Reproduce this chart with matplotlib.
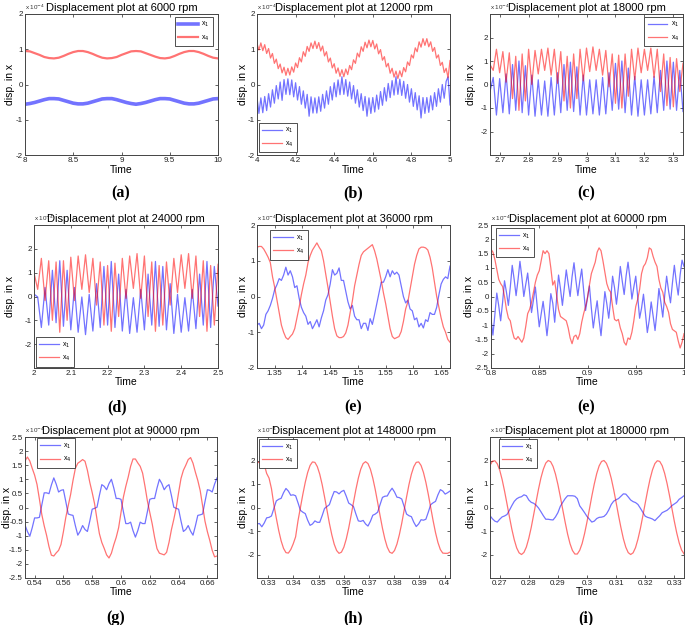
import numpy as np
import matplotlib
matplotlib.use('Agg')
import matplotlib.pyplot as plt
from matplotlib.ticker import FuncFormatter

plt.rcParams['font.family'] = ['Liberation Sans', 'DejaVu Sans']

# displacement values in units of 1e-4, sampled evenly across each time window
# (a) 6000 rpm, t = 8 .. 10
a_x1 = [-0.56, -0.54, -0.51, -0.47, -0.43, -0.40, -0.40, -0.41, -0.45, -0.49,
        -0.53, -0.55, -0.55, -0.53, -0.49, -0.45, -0.41, -0.40, -0.40, -0.43,
        -0.47, -0.51, -0.54, -0.56, -0.54, -0.51, -0.47, -0.43, -0.40, -0.40,
        -0.41, -0.45, -0.49, -0.53, -0.55, -0.55, -0.53, -0.49, -0.45, -0.41,
        -0.40]
a_x4 = [0.95, 0.94, 0.89, 0.84, 0.78, 0.75, 0.74, 0.76, 0.81, 0.87,
        0.92, 0.95, 0.95, 0.92, 0.87, 0.81, 0.76, 0.74, 0.75, 0.78,
        0.84, 0.89, 0.94, 0.95, 0.94, 0.89, 0.84, 0.79, 0.75, 0.74,
        0.76, 0.81, 0.87, 0.92, 0.95, 0.95, 0.92, 0.87, 0.81, 0.76,
        0.74]

# (b) 12000 rpm, t = 4 .. 5
b_x1 = [-0.37, -0.82, -0.38, -0.80, -0.34, -0.74, -0.26, -0.64, -0.15, -0.53,
        -0.03, -0.41, 0.07, -0.45, 0.14, -0.28, 0.16, -0.29, 0.13, -0.35,
        0.05, -0.44, -0.06, -0.56, -0.18, -0.67, -0.28, -0.90, -0.35, -0.81,
        -0.38, -0.81, -0.35, -0.76, -0.28, -0.67, -0.18, -0.56, -0.06, -0.44,
        0.05, -0.35, 0.13, -0.29, 0.22, -0.28, 0.14, -0.33, 0.07, -0.41,
        -0.03, -0.53, -0.15, -0.64, -0.26, -0.74, -0.34, -0.90, -0.38, -0.82,
        -0.37, -0.78, -0.30, -0.70, -0.20, -0.59, -0.09, -0.47, 0.03, -0.37,
        0.11, -0.30, 0.22, -0.28, 0.15, -0.31, 0.09, -0.39, 0.00, -0.50,
        -0.12, -0.62, -0.23, -0.72, -0.32, -0.95, -0.37, -0.82, -0.37, -0.79,
        -0.32, -0.72, -0.23, -0.62, -0.12, -0.50, 0.00, -0.39, 0.09, 0.22,
        -0.58]
b_x4 = [1.16, 0.98, 1.18, 0.96, 1.13, 0.88, 1.02, 0.75, 0.88, 0.60,
        0.72, 0.45, 0.58, 0.33, 0.49, 0.26, 0.46, 0.27, 0.50, 0.35,
        0.61, 0.48, 0.76, 0.64, 0.93, 0.80, 1.08, 0.94, 1.18, 1.02,
        1.23, 1.02, 1.19, 0.95, 1.09, 0.81, 0.93, 0.64, 0.75, 0.47,
        0.59, 0.32, 0.47, 0.23, 0.42, 0.22, 0.44, 0.28, 0.54, 0.42,
        0.70, 0.60, 0.89, 0.78, 1.07, 0.94, 1.20, 1.04, 1.26, 1.07,
        1.25, 1.01, 1.15, 0.87, 0.99, 0.69, 0.79, 0.50, 0.60, 0.32,
        0.46, 0.21, 0.38, 0.17, 0.39, 0.22, 0.48, 0.36, 0.64, 0.54,
        0.84, 0.75, 1.04, 0.93, 1.21, 1.06, 1.30, 1.11, 1.30, 1.07,
        1.21, 0.94, 1.05, 0.75, 0.84, 0.54, 0.63, 0.34, 0.46, 0.19,
        0.68]

# (c) 18000 rpm, t = 2.667 .. 3.333
c_x1 = [-0.30, 0.30, -1.30, 0.25, -1.20, 0.45, -1.25, 0.85, -1.10, 1.00,
        -1.20, 0.80, -1.30, 0.40, -1.35, 0.20, -1.30, 0.15, -1.35, 0.30,
        -1.30, 0.50, -1.20, 0.85, -1.10, 0.95, -1.15, 0.75, -1.30, 0.40,
        -1.30, 0.20, -1.25, 0.20, -1.30, 0.30, -1.25, 0.50, -1.10, 0.90,
        -1.05, 1.00, -1.20, 0.70, -1.30, 0.35, -1.35, 0.20, -1.30, 0.20,
        -1.25, 0.35, -1.20, 0.60, -1.10, 1.00, -1.05, 0.95, -1.10, 0.60,
        -1.15]
c_x4 = [0.85, 0.60, 1.50, 0.50, 1.40, 0.10, 1.35, -0.60, 1.20, -1.10,
        1.30, -0.70, 1.50, 0.00, 1.45, 0.45, 1.50, 0.60, 1.55, 0.40,
        1.50, 0.05, 1.40, -0.70, 1.20, -1.00, 1.30, -0.60, 1.50, 0.15,
        1.55, 0.55, 1.60, 0.60, 1.50, 0.40, 1.45, -0.10, 1.30, -0.80,
        1.25, -1.00, 1.30, -0.50, 1.50, 0.20, 1.55, 0.50, 1.50, 0.60,
        1.55, 0.30, 1.50, -0.30, 1.30, -0.90, 1.15, -0.95, 1.10, -0.30,
        0.90]

# (d) 24000 rpm, t = 2 .. 2.5
d_x1 = [0.10, -0.02, -1.30, 0.38, -1.20, 1.10, -1.10, 1.50, -1.25, 1.10,
        -1.40, 0.38, -1.50, -0.02, -1.60, 0.09, -1.45, 0.54, -1.30, 1.26,
        -1.20, 1.47, -1.30, 0.94, -1.45, 0.30, -1.55, -0.05, -1.50, 0.30,
        -1.40, 0.94, -1.20, 1.47, -1.25, 1.26, -1.40, 0.54, -1.55, 0.09,
        -1.50, -0.05, -1.45, 0.30, -1.35, 0.94, -1.20, 1.47, -1.30, 1.26,
        -0.40]
d_x4 = [1.00, 0.30, 1.60, -0.17, 1.50, -1.00, 1.45, -1.50, 1.50, -1.00,
        1.65, -0.17, 1.70, 0.30, 1.75, 0.17, 1.60, -0.36, 1.45, -1.20,
        1.30, -1.46, 1.40, -0.84, 1.60, -0.08, 1.70, 0.34, 1.80, -0.08,
        1.70, -0.84, 1.45, -1.46, 1.30, -1.20, 1.45, -0.36, 1.60, 0.17,
        1.75, 0.34, 1.80, -0.08, 1.70, -0.84, 1.50, -1.46, 1.30, -1.20,
        1.35]

# (e) 36000 rpm, t = 1.318 .. 1.666
e_x1 = [-0.80, -0.75, -0.90, -0.80, -0.50, -0.40, -0.25, -0.05, 0.20, 0.33,
        0.50, 0.45, 0.60, 0.82, 0.60, 0.72, 0.55, 0.25, 0.30, -0.05,
        -0.30, -0.45, -0.55, -0.78, -0.70, -0.90, -0.78, -0.65, -0.85, -0.60,
        -0.40, -0.10, 0.05, 0.35, 0.75, 0.60, 0.65, 0.80, 0.45, 0.45,
        0.15, -0.15, -0.35, -0.25, -0.55, -0.65, -0.65, -0.90, -0.75, -0.75,
        -0.95, -0.62, -0.78, -0.50, -0.20, 0.10, 0.40, 0.40, 0.55, 0.75,
        0.55, 0.72, 0.62, 0.68, 0.60, 0.30, 0.00, -0.18, -0.10, -0.35,
        -0.40, -0.65, -0.60, -0.85, -0.75, -0.88, -0.65, -0.70, -0.45, -0.50,
        -0.50, -0.30, 0.05, 0.35, 0.48, 0.55, 0.50, 0.85]
e_x4 = [1.38, 1.40, 1.40, 1.33, 1.22, 1.10, 0.95, 0.55, 0.25, -0.10,
        -0.45, -0.80, -1.00, -1.15, -1.20, -1.12, -1.05, -0.90, -0.60, -0.30,
        0.05, 0.35, 0.60, 0.95, 1.15, 1.30, 1.40, 1.50, 1.38, 1.28,
        1.00, 0.62, 0.25, -0.15, -0.55, -0.90, -1.10, -1.15, -1.15, -1.12,
        -1.02, -0.80, -0.45, -0.12, 0.30, 0.60, 0.90, 1.15, 1.25, 1.30,
        1.35, 1.40, 1.45, 1.28, 1.05, 0.75, 0.45, 0.10, -0.20, -0.55,
        -0.90, -1.12, -1.18, -1.15, -1.12, -0.98, -0.70, -0.35, -0.15, 0.20,
        0.55, 0.90, 1.15, 1.33, 1.38, 1.38, 1.36, 1.30, 1.10, 0.80,
        0.40, 0.00, -0.30, -0.60, -0.85, -1.00, -1.20, -1.28]

# (e) 60000 rpm, t = 0.8 .. 1.0
f_x1 = [-0.79, -1.35, -0.64, 0.12, -0.32, -0.85, -0.21, 0.55, 0.15, -0.31,
        0.33, 1.09, 0.60, 0.03, 0.58, 1.23, 0.67, 0.00, 0.42, 0.82,
        0.15, -0.56, -0.12, 0.33, -0.39, -1.06, -0.61, -0.17, -0.73, -1.37,
        -0.73, 0.10, -0.23, -0.90, -0.07, 0.75, 0.27, -0.31, 0.31, 0.93,
        0.45, 0.00, 0.69, 1.18, 0.56, 0.03, 0.54, 0.96, 0.22, -0.49,
        -0.03, 0.37, -0.41, -1.10, -0.59, -0.15, -0.82, -1.37, -0.61, 0.17,
        -0.25, -0.76, -0.12, 0.71, 0.31, -0.27, 0.31, 1.05, 0.54, 0.07,
        0.72, 1.20, 0.63, -0.09, 0.33, 0.71, 0.00, -0.76, -0.41, 0.08,
        -0.57, -1.26, -0.82, -0.19, -0.68, -1.19, -0.52, 0.28, -0.19, -0.72,
        0.04, 0.71, 0.20, -0.22, 0.47, 1.09, 0.51, 0.05, 0.76, 1.27,
        1.05]
f_x4 = [1.65, 1.55, 1.30, 0.95, 0.60, 0.45, 0.35, 0.00, -0.45, -0.75,
        -0.85, -1.20, -1.45, -1.50, -1.40, -1.50, -1.60, -1.45, -1.05, -0.60,
        -0.45, -0.20, 0.15, 0.50, 0.75, 0.90, 1.25, 1.60, 1.50, 1.60,
        1.50, 1.00, 0.40, 0.55, 0.05, -0.45, -0.70, -0.75, -0.80, -0.85,
        -1.10, -1.45, -1.65, -1.40, -1.35, -1.50, -1.30, -0.90, -0.60, -0.35,
        -0.05, 0.40, 0.80, 1.00, 1.20, 1.55, 1.70, 1.60, 1.25, 0.85,
        0.45, 0.25, 0.15, -0.35, -0.80, -0.85, -0.80, -1.10, -1.30, -1.60,
        -1.70, -1.45, -1.50, -1.25, -0.85, -0.35, -0.10, 0.25, 0.80, 1.05,
        1.15, 1.35, 1.70, 1.65, 1.40, 1.20, 1.05, 0.60, 0.30, 0.15,
        -0.20, -0.35, -0.55, -0.95, -1.15, -1.20, -1.25, -1.55, -1.80, -1.60,
        -1.30]

# (g) 90000 rpm, t = 0.5333 .. 0.6667
g_x1 = [-0.62, -0.85, -1.02, -0.72, -0.37, -0.37, -0.35, 0.09, 0.52, 0.52,
        0.49, 0.80, 1.05, 0.83, 0.55, 0.61, 0.63, 0.21, -0.23, -0.26,
        -0.28, -0.65, -0.98, -0.84, -0.64, -0.78, -0.85, -0.48, -0.06, -0.03,
        0.01, 0.43, 0.81, 0.75, 0.63, 0.85, 1.00, 0.69, 0.32, 0.32,
        0.29, -0.15, -0.57, -0.57, -0.52, -0.82, -1.05, -0.82, -0.52, -0.57,
        -0.57, -0.15, 0.29, 0.32, 0.32, 0.69, 1.00, 0.85, 0.63, 0.75,
        0.81, 0.43, 0.01, -0.03, -0.06, -0.48, -0.85, -0.78, -0.64, -0.84,
        -0.98, -0.65, -0.28, -0.26, -0.23, 0.21, 0.63, 0.61, 0.55, 0.83,
        1.05]
g_x4 = [1.65, 1.79, 1.65, 1.39, 1.15, 0.82, 0.30, -0.25, -0.65, -0.99,
        -1.39, -1.69, -1.72, -1.61, -1.52, -1.31, -0.86, -0.35, 0.06, 0.46,
        0.96, 1.39, 1.57, 1.63, 1.70, 1.64, 1.32, 0.89, 0.53, 0.13,
        -0.42, -0.93, -1.24, -1.45, -1.68, -1.79, -1.62, -1.32, -1.06, -0.72,
        -0.18, 0.37, 0.75, 1.08, 1.46, 1.72, 1.72, 1.58, 1.46, 1.22,
        0.75, 0.23, -0.18, -0.58, -1.06, -1.46, -1.62, -1.65, -1.68, -1.59,
        -1.24, -0.79, -0.42, -0.01, 0.53, 1.03, 1.32, 1.50, 1.70, 1.77,
        1.57, 1.25, 0.96, 0.60, 0.06, -0.49, -0.86, -1.17, -1.52, -1.75,
        -1.72]

# (h) 148000 rpm, t = 0.3256 .. 0.4021
h_x1 = [-0.70, -0.68, -0.82, -0.66, -0.44, -0.42, -0.36, -0.04, 0.28, 0.35,
        0.39, 0.63, 0.81, 0.70, 0.52, 0.54, 0.50, 0.20, -0.12, -0.20,
        -0.26, -0.54, -0.76, -0.70, -0.57, -0.63, -0.63, -0.35, -0.04, 0.04,
        0.12, 0.42, 0.68, 0.66, 0.58, 0.68, 0.73, 0.48, 0.19, 0.12,
        0.04, -0.28, -0.57, -0.59, -0.55, -0.70, -0.79, -0.59, -0.33, -0.28,
        -0.20, 0.12, 0.43, 0.48, 0.49, 0.68, 0.82, 0.66, 0.44, 0.42,
        0.36, 0.04, -0.28, -0.35, -0.39, -0.63, -0.81, -0.70, -0.52, -0.54,
        -0.50, -0.20, 0.12, 0.20, 0.26, 0.54, 0.76, 0.70, 0.57, 0.63,
        0.70]
h_x4 = [1.95, 1.90, 1.95, 1.83, 1.45, 1.25, 0.80, 0.11, -0.45, -0.98,
        -1.42, -1.74, -1.92, -1.94, -1.79, -1.55, -1.25, -0.56, 0.00, 0.56,
        1.07, 1.49, 1.79, 1.94, 1.92, 1.74, 1.42, 0.98, 0.45, -0.11,
        -0.67, -1.16, -1.56, -1.83, -1.95, -1.90, -1.69, -1.34, -0.88, -0.34,
        0.22, 0.77, 1.25, 1.63, 1.87, 1.95, 1.87, 1.63, 1.25, 0.77,
        0.22, -0.34, -0.88, -1.34, -1.69, -1.90, -1.95, -1.83, -1.56, -1.16,
        -0.67, -0.11, 0.45, 0.98, 1.42, 1.74, 1.92, 1.94, 1.79, 1.49,
        1.07, 0.56, 0.00, -0.56, -1.07, -1.49, -1.79, -1.94, -1.95, -1.95,
        -1.90]

# (i) 180000 rpm, t = 0.2667 .. 0.3333
i_x1 = [-0.35, -0.48, -0.58, -0.62, -0.50, -0.40, -0.36, -0.30, -0.12, 0.08,
        0.26, 0.37, 0.43, 0.46, 0.54, 0.50, 0.32, 0.22, 0.18, 0.10,
        -0.02, -0.18, -0.35, -0.50, -0.50, -0.52, -0.53, -0.40, -0.22, 0.05,
        0.22, 0.38, 0.50, 0.50, 0.50, 0.48, 0.38, 0.07, -0.07, -0.22,
        -0.38, -0.50, -0.62, -0.58, -0.47, -0.42, -0.41, -0.38, -0.28, -0.10,
        0.13, 0.27, 0.33, 0.38, 0.48, 0.58, 0.57, 0.45, 0.32, 0.25,
        0.21, 0.13, -0.03, -0.20, -0.37, -0.42, -0.45, -0.49, -0.56, -0.45,
        -0.35, -0.22, -0.17, -0.12, -0.03, 0.08, 0.15, 0.22, 0.35, 0.42,
        0.50]
i_x4 = [1.79, 1.97, 1.99, 1.86, 1.59, 1.19, 0.70, 0.16, -0.39, -0.92,
        -1.37, -1.72, -1.93, -2.00, -1.91, -1.68, -1.31, -0.85, -0.31, 0.24,
        0.78, 1.26, 1.63, 1.89, 2.00, 1.95, 1.75, 1.42, 0.98, 0.46,
        -0.09, -0.63, -1.13, -1.54, -1.83, -1.98, -1.98, -1.82, -1.53, -1.11,
        -0.61, -0.07, 0.49, 1.00, 1.44, 1.77, 1.96, 2.00, 1.88, 1.62,
        1.24, 0.76, 0.22, -0.34, -0.86, -1.33, -1.69, -1.92, -2.00, -1.93,
        -1.71, -1.35, -0.90, -0.37, 0.18, 0.72, 1.21, 1.60, 1.87, 1.99,
        1.96, 1.78, 1.46, 1.03, 0.52, -0.03, -0.58, -1.08, -1.50, -1.81,
        -1.97]

speeds = ['6000', '12000', '18000', '24000', '36000', '60000', '90000', '148000', '180000']
captions = ['(a)', '(b)', '(c)', '(d)', '(e)', '(e)', '(g)', '(h)', '(i)']
t_windows = [(8, 10), (4, 5), (2.6667, 3.3333), (2, 2.5), (1.318, 1.666),
             (0.8, 1.0), (0.5333, 0.6667), (0.3256, 0.4021), (0.2667, 0.3333)]
x_ticks = [np.arange(8, 10.01, 0.5), np.arange(4, 5.01, 0.2), np.arange(2.7, 3.31, 0.1),
           np.arange(2, 2.51, 0.1), np.arange(1.35, 1.651, 0.05), np.arange(0.8, 1.001, 0.05),
           np.arange(0.54, 0.661, 0.02), np.arange(0.33, 0.401, 0.01), np.arange(0.27, 0.331, 0.01)]
y_lims = [2, 2, 3, 3, 2, 2.5, 2.5, 3, 3]
series = [(a_x1, a_x4), (b_x1, b_x4), (c_x1, c_x4), (d_x1, d_x4), (e_x1, e_x4),
          (f_x1, f_x4), (g_x1, g_x4), (h_x1, h_x4), (i_x1, i_x4)]

W, H = 685, 625
fig = plt.figure(figsize=(6.85, 6.25), dpi=100)

# axes boxes in pixels: left, top, right, bottom
boxes = [(25, 14, 218, 155), (257, 14, 450, 155), (490, 14, 683, 155),
         (34, 225, 218, 368), (257, 225, 450, 368), (491, 225, 684, 368),
         (25, 437, 217, 578), (257, 437, 450, 578), (490, 437, 684, 578)]
ylabel_x = [10, 243, 471, 10, 243, 469, 7, 243, 471]
xlabel_y = [170, 170, 170, 382, 382, 382, 592, 592, 592]
caption_pos = [(121, 193), (353, 193), (586, 193), (117, 407), (353, 407), (586, 407),
               (116, 618), (353, 618), (586, 618)]
legend_spec = [('upper right', (0.975, 0.98)), ('lower left', (0.01, 0.02)),
               ('upper right', (0.998, 0.98)), ('lower left', (0.01, 0.01)),
               ('upper left', (0.067, 0.965)), ('upper left', (0.026, 0.98)),
               ('upper left', (0.062, 0.99)), ('upper left', (0.01, 0.986)),
               ('upper left', (0.046, 0.986))]

fmt = FuncFormatter(lambda v, p: f'{round(v, 6):g}')

for n in range(9):
    l, t, r, b = boxes[n]
    ax = fig.add_axes([l / W, 1 - b / H, (r - l) / W, (b - t) / H])
    x1, x4 = series[n]
    t0, t1 = t_windows[n]
    lw1, lw4 = (2.6, 1.6) if n == 0 else (0.9, 0.9)
    ax.plot(np.linspace(t0, t1, len(x1)), x1, color='blue', alpha=0.55, lw=lw1, label='x$_1$')
    ax.plot(np.linspace(t0, t1, len(x4)), x4, color='red', alpha=0.55, lw=lw4, label='x$_4$')
    ax.set_xlim(t0, t1)
    yl = y_lims[n]
    ax.set_ylim(-yl, yl)
    if yl == 2.5:
        ax.set_yticks(np.arange(-2.5, 2.51, 0.5))
    else:
        ax.set_yticks([-2, -1, 0, 1, 2])
    ax.set_xticks(x_ticks[n])
    ax.xaxis.set_major_formatter(fmt)
    ax.yaxis.set_major_formatter(fmt)
    ax.tick_params(direction='in', length=2, width=0.5, labelsize=5.8, pad=1.5,
                   top=True, right=True, colors='#222222')
    for s in ax.spines.values():
        s.set_color('#444444')
        s.set_linewidth(0.7)
    ax.set_title('Displacement plot at ' + speeds[n] + ' rpm', fontsize=8, pad=2)
    ax.text(0.0, 1.012, 'x 10$^{-4}$', transform=ax.transAxes, fontsize=4.5,
            ha='left', va='bottom', color='#333333')
    loc, anchor = legend_spec[n]
    leg = ax.legend(loc=loc, bbox_to_anchor=anchor, borderaxespad=0, fontsize=5,
                    handlelength=2.8, handletextpad=0.5, borderpad=0.5,
                    labelspacing=0.6, fancybox=False, framealpha=1)
    leg.get_frame().set_edgecolor('#333333')
    leg.get_frame().set_linewidth(0.6)

    fig.text(ylabel_x[n] / W, 1 - (t + b) / 2 / H, 'disp. in x', rotation=90,
             ha='center', va='center', fontsize=7.5)
    fig.text((l + r) / 2 / W, 1 - xlabel_y[n] / H, 'Time', ha='center', va='center',
             fontsize=7.5)
    cx, cy = caption_pos[n]
    fig.text(cx / W, 1 - cy / H, captions[n], ha='center', va='center', fontsize=11.5,
             fontweight='bold', family=['Liberation Serif', 'DejaVu Serif'])

fig.savefig('out.png', dpi=100)
